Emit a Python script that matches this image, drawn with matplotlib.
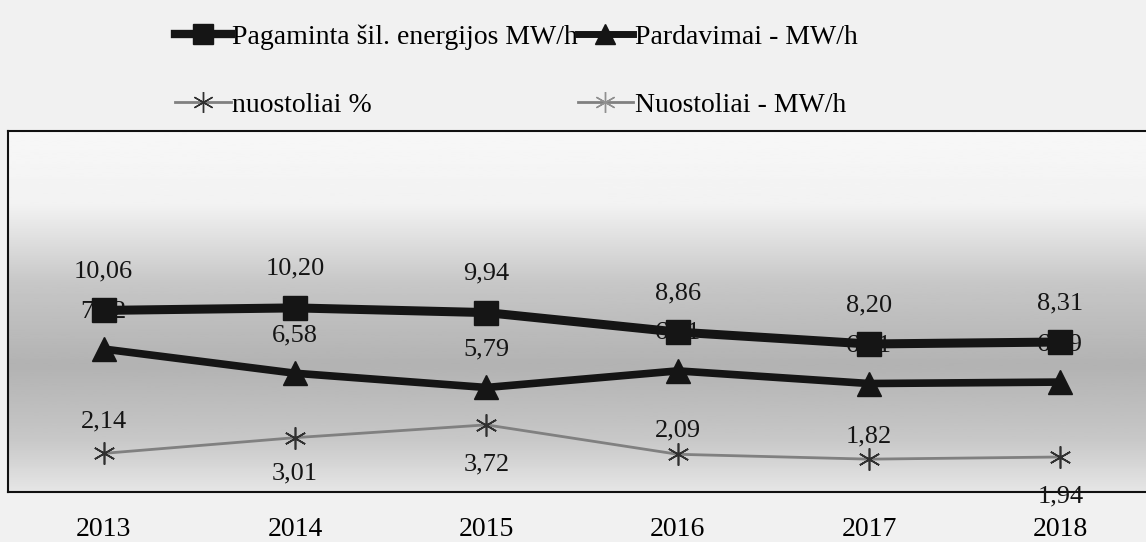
import matplotlib
matplotlib.use('Agg')
import numpy as np
import matplotlib.pyplot as plt
from matplotlib.lines import Line2D

plt.rcParams['font.family'] = ['Liberation Serif', 'DejaVu Serif']

metai = ['2013', '2014', '2015', '2016', '2017', '2018']
pagaminta = [10.06, 10.20, 9.94, 8.86, 8.20, 8.31]
pardavimai = [7.92, 6.58, 5.79, 6.71, 6.01, 6.09]
nuostoliai = [2.14, 3.01, 3.72, 2.09, 1.82, 1.94]

# kur deti nuostoliu etiketes (virsuje / apacioje), pikseliais
nuost_poslinkis = [32, -36, -40, 24, 23, -39]

juoda = '#151515'
pilka = '#808080'
star = (6, 2, 0)

fig = plt.figure(figsize=(11.46, 5.42), dpi=100)
fig.patch.set_facecolor('#f1f1f1')
ax = fig.add_axes([8/1146, 50/542, 1148/1146, 361/542])

x = np.arange(len(metai))
ax.set_xlim(-0.5, 5.5)
ax.set_ylim(0, 20)

# pilkas gradientas fone
h = np.linspace(0, 1, 200)
tonas = np.interp(h, [0, 0.2, 0.42, 0.65, 0.85, 1.0], [0.97, 0.95, 0.78, 0.70, 0.78, 0.90])
ax.imshow(tonas[:, None], extent=[-0.5, 5.5, 0, 20], aspect='auto', cmap='gray',
          vmin=0, vmax=1, origin='upper', zorder=0)

ax.plot(x, pardavimai, color=juoda, lw=5.5, marker='^', ms=17, zorder=3)
ax.plot(x, pagaminta, color=juoda, lw=6.5, marker='s', ms=17, zorder=5)
ax.plot(x, nuostoliai, color=pilka, lw=2, marker=star, ms=16, mec='#303030', mew=1.2, zorder=3)

for i in x:
    ax.annotate(f'{pagaminta[i]:.2f}'.replace('.', ','), (i, pagaminta[i]),
                xytext=(0, 39), textcoords='offset pixels', ha='center', va='center',
                fontsize=19, color=juoda, zorder=6)
    ax.annotate(f'{pardavimai[i]:.2f}'.replace('.', ','), (i, pardavimai[i]),
                xytext=(0, 38), textcoords='offset pixels', ha='center', va='center',
                fontsize=19, color=juoda, zorder=4)
    ax.annotate(f'{nuostoliai[i]:.2f}'.replace('.', ','), (i, nuostoliai[i]),
                xytext=(0, nuost_poslinkis[i]), textcoords='offset pixels', ha='center',
                va='center', fontsize=19, color=juoda, zorder=6)

ax.set_xticks(x)
ax.set_xticklabels(metai, fontsize=20)
ax.tick_params(axis='x', length=0, pad=18)
ax.set_yticks([])
for s in ['left', 'top', 'bottom']:
    ax.spines[s].set_color('#111111')
    ax.spines[s].set_linewidth(1.5)
ax.spines['right'].set_visible(False)

rankenos = [
    Line2D([], [], color=juoda, lw=6, marker='s', ms=15),
    Line2D([], [], color=pilka, lw=2, marker=star, ms=15, mec='#303030', mew=1.0),
    Line2D([], [], color=juoda, lw=5, marker='^', ms=15),
    Line2D([], [], color=pilka, lw=2, marker=star, ms=15, mec='#909090', mew=1.0),
]
pavadinimai = ['Pagaminta šil. energijos MW/h', 'nuostoliai %',
               'Pardavimai - MW/h', 'Nuostoliai - MW/h']
fig.legend(rankenos, pavadinimai, loc='upper left', bbox_to_anchor=(175/1146, 1 - 24/542),
           ncol=2, frameon=False, fontsize=20, handlelength=2.0, handletextpad=0.05,
           columnspacing=0.0, labelspacing=1.55, borderpad=0, borderaxespad=0, numpoints=1)

plt.savefig('out.png', dpi=100, facecolor=fig.get_facecolor())
